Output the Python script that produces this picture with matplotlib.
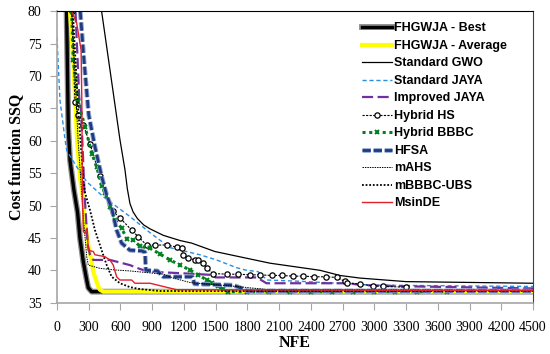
import matplotlib
matplotlib.use("Agg")
import matplotlib.pyplot as plt
import matplotlib.patheffects as pe

# convergence curves (NFE, cost function SSQ)
best_x = [91, 107, 123, 139, 160, 195, 217, 249, 281, 296, 328, 4500]
best_y = [80, 62, 57, 55, 52.4, 48.9, 45.0, 41.3, 38.5, 37.3, 36.7, 36.7]

avg_x = [123, 154, 190, 220, 243, 265, 296, 328, 343, 369, 390, 406, 438, 4500]
avg_y = [80, 72.5, 60, 54, 51.5, 47.3, 43.8, 41.3, 39.8, 38.5, 37.5, 37.0, 36.7, 36.7]

gwo_x = [422, 595, 643, 665, 690, 720, 760, 820, 880, 1005, 1163, 1273, 1493, 2013, 2486, 2675, 2864,
         3300, 4500]
gwo_y = [80, 60.2, 55.5, 52.6, 50.3, 49.0, 48.0, 47.0, 46.4, 45.4, 44.6, 44.2, 42.9, 41.1, 40.0, 39.2,
         38.8, 38.25, 38.0]

jaya_x = [0, 28, 76, 92, 186, 280, 435, 690, 880, 1068, 1351, 1509, 1698, 1792, 1900, 1985, 2300, 3000, 4500]
jaya_y = [76, 66.3, 60.2, 58.5, 56.0, 53.7, 51.4, 48.3, 45.8, 43.5, 42.4, 41.6, 40.4, 40.0, 39.8, 38.5, 38.3, 37.7, 37.5]

ijaya_x = [175, 210, 227, 260, 290, 312, 343, 501, 690, 785, 863, 1230, 1450, 1500, 1890, 1980, 2740, 2900, 3400, 4500]
ijaya_y = [80, 66.8, 64.8, 52, 44, 42.4, 41.6, 41.6, 40.8, 40.2, 39.8, 39.5, 39.3, 38.9, 38.9, 38.0, 38.0, 37.7, 37.5, 37.2]

hs_x = [139, 170, 200, 249, 312, 406, 530, 595, 706, 767, 848, 926, 1037, 1130, 1178, 1194, 1241,
        1304, 1336, 1383, 1415, 1478, 1604, 1711, 1824, 1919, 2029, 2124, 2231, 2330, 2430, 2540,
        2643, 2722, 2738, 2864, 2990, 3080, 3300]
hs_y = [80, 66, 64, 62.5, 59.5, 54.5, 49.1, 48.1, 46.2, 45.2, 43.9, 43.9, 43.9, 43.6, 43.4, 42.4, 41.9,
        41.6, 41.6, 41.1, 40.3, 39.5, 39.4, 39.4, 39.3, 39.3, 39.2, 39.2, 39.1, 39.1, 39.0, 39.0,
        38.9, 38.3, 38.1, 37.85, 37.6, 37.5, 37.4]

bbbc_x = [139, 154, 200, 265, 330, 375, 422, 454, 501, 548, 611, 659, 720, 785, 880, 975, 1068, 1163,
          1257, 1336, 1415, 1470, 1522, 1570, 1616, 1800, 2000, 2200, 2400, 2600, 2800, 3000, 3200,
          3400, 3683]
bbbc_y = [80, 72.5, 66, 62.2, 58, 56, 53, 52, 49.8, 47.8, 46.5, 44.9, 44.7, 43.7, 43.4, 42.5, 41.6, 40.8,
          40.05, 39.3, 38.5, 38.0, 37.5, 37.1, 36.7, 36.7, 36.7, 36.7, 36.7, 36.7, 36.7, 36.7, 36.7,
          36.7, 36.7]

hfsa_x = [220, 255, 300, 360, 422, 470, 517, 564, 611, 690, 800, 832, 840, 950, 1005, 1280, 1300,
          1667, 1750, 1800, 4500]
hfsa_y = [80, 72.5, 64, 59, 54.5, 51.6, 49.6, 46.2, 44.2, 43.1, 43.0, 42.8, 40.0, 39.9, 39.0, 39.0, 37.9,
          37.7, 37.2, 36.8, 36.8]

mahs_x = [140, 200, 250, 281, 296, 406, 548, 690, 1005, 1100, 1260, 1700, 2000, 4500]
mahs_y = [80, 60, 48, 42.1, 40.8, 40.3, 40.05, 39.9, 39.4, 38.8, 38.1, 37.5, 37.0, 36.9]

mbbbc_x = [150, 200, 249, 265, 312, 359, 422, 470, 517, 595, 690, 785, 973, 4500]
mbbbc_y = [80, 65, 54, 52.0, 49.3, 46.2, 43.1, 40.8, 39.0, 38.0, 37.4, 37.1, 36.8, 36.8]

msde_x = [139, 186, 208, 228, 235, 240, 249, 265, 285, 296, 343, 359, 454, 501, 532, 564, 595, 706,
          737, 880, 1005, 1131, 4500]
msde_y = [80, 78.2, 76, 74, 66, 52, 46, 45.7, 46.5, 43.1, 42.9, 42.4, 42.1, 41.6, 40.8, 39.0, 38.5, 38.5,
          38.0, 38.0, 37.5, 37.0, 36.85]

x_ticks = list(range(0, 4501, 300))
y_ticks = list(range(35, 81, 5))

plt.rcParams["font.family"] = "Liberation Serif"
fig = plt.figure(figsize=(5.5, 3.54), dpi=100)
ax = fig.add_axes([0.1036, 0.145, 0.8655, 0.823])

ax.plot(best_x, best_y, color="black", lw=2.4, label="FHGWJA - Best",
        path_effects=[pe.Stroke(linewidth=4.2, foreground="#8c8c8c"), pe.Normal()])
ax.plot(avg_x, avg_y, color="#ffff00", lw=3, label="FHGWJA - Average")
ax.plot(gwo_x, gwo_y, color="black", lw=0.9, label="Standard GWO")
ax.plot(jaya_x, jaya_y, color="#2a8ee0", lw=1.0, dashes=(3, 2), label="Standard JAYA")
ax.plot(ijaya_x, ijaya_y, color="#7030a0", lw=1.6, dashes=(5, 2), label="Improved JAYA")
ax.plot(hs_x, hs_y, color="black", lw=0.8, dashes=(2, 1.2), marker="o", ms=3.8,
        mfc="white", mec="black", mew=0.9, label="Hybrid HS")
ax.plot(bbbc_x, bbbc_y, color="#00801e", lw=2.2, dashes=(1, 1.2), marker="x", ms=3.5,
        mew=1.4, label="Hybrid BBBC")
ax.plot(hfsa_x, hfsa_y, color="#1f3a80", lw=2.0, dashes=(3, 1), label="HFSA",
        path_effects=[pe.Stroke(linewidth=3.4, foreground="#8ea4cf"), pe.Normal()])
ax.plot(mahs_x, mahs_y, color="black", lw=0.7, dashes=(1.5, 1), label="mAHS")
ax.plot(mbbbc_x, mbbbc_y, color="black", lw=1.3, dashes=(1, 1), label="mBBBC-UBS")
ax.plot(msde_x, msde_y, color="#e0202a", lw=1.0, label="MsinDE")

ax.set_xlim(0, 4500)
ax.set_ylim(35, 80)
ax.set_xticks(x_ticks)
ax.set_yticks(y_ticks)
ax.tick_params(axis="both", direction="out", length=5, color="#a6a6a6", labelsize=10)
ax.tick_params(axis="x", pad=8)
ax.tick_params(axis="y", pad=6)
for side in ["left", "bottom"]:
    ax.spines[side].set_color("#a6a6a6")
    ax.spines[side].set_linewidth(1.2)
ax.spines["top"].set_color("black")
ax.spines["right"].set_color("#404040")

ax.set_xlabel("NFE", fontsize=11.5, fontweight="bold", labelpad=1)
ax.set_ylabel("Cost function SSQ", fontsize=11.5, fontweight="bold", labelpad=3)

leg = ax.legend(loc="upper left", bbox_to_anchor=(0.641, 0.962), frameon=False,
                borderpad=0, borderaxespad=0, handlelength=2.4, handletextpad=0.15,
                labelspacing=0.44, prop={"family": "Liberation Sans", "weight": "bold", "size": 9})

fig.savefig("out.png", dpi=100)
